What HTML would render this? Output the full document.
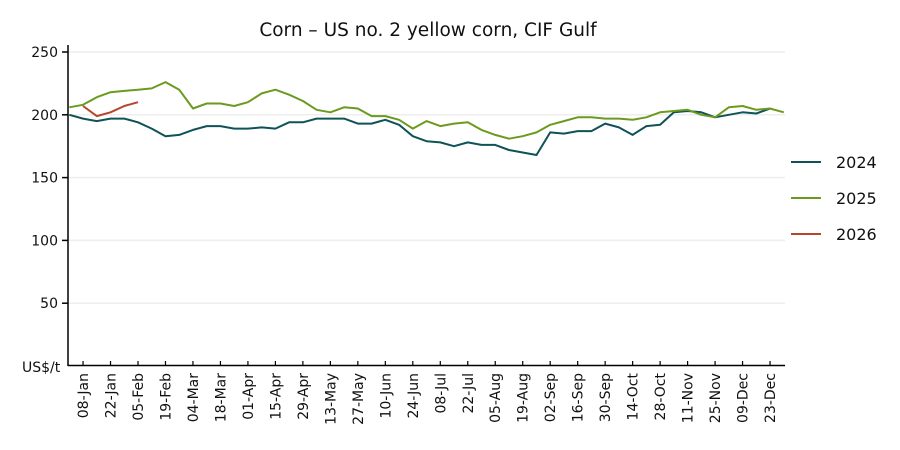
<!DOCTYPE html>
<html><head><meta charset="utf-8"><style>
body{margin:0;background:#fff;}
svg{display:block;font-family:"DejaVu Sans","Liberation Sans",sans-serif;}
</style></head><body>
<svg id="c" width="900" height="450" xmlns="http://www.w3.org/2000/svg">
<rect width="900" height="450" fill="#fff"/>
<text x="428" y="36" font-size="18.5" text-anchor="middle" fill="#111">Corn – US no. 2 yellow corn, CIF Gulf</text>
<g id="grid"></g>
<line x1="68" y1="45" x2="68" y2="366" stroke="#000" stroke-width="1.5"/>
<line x1="68" y1="365.5" x2="785" y2="365.5" stroke="#000" stroke-width="1.5"/>
<g id="lines"></g>
<text x="22" y="372" font-size="14" fill="#111">US$/t</text>
<g font-size="16" fill="#111">
<line x1="791" y1="162" x2="821" y2="162" stroke="#0f5257" stroke-width="2"/><text x="836" y="168">2024</text>
<line x1="791" y1="198" x2="821" y2="198" stroke="#6b9a1f" stroke-width="2"/><text x="836" y="204">2025</text>
<line x1="791" y1="234" x2="821" y2="234" stroke="#b5452b" stroke-width="2"/><text x="836" y="240">2026</text>
</g>
</svg>
<script>
var ns="http://www.w3.org/2000/svg";
function el(t,a,p,txt){var e=document.createElementNS(ns,t);for(var k in a)e.setAttribute(k,a[k]);if(txt)e.textContent=txt;p.appendChild(e);return e;}
var g=document.getElementById('grid'),L=document.getElementById('lines');
function Y(v){return 366-v*1.256;}function X(i){return 69.3+13.74*i;}
[50,100,150,200,250].forEach(function(v){var y=Y(v);
el('line',{x1:68,x2:785,y1:y,y2:y,stroke:'#eeeeee','stroke-width':1.5},g);
el('line',{x1:62,x2:68,y1:y,y2:y,stroke:'#000','stroke-width':1.5},g);
el('text',{x:58,y:y+5,'font-size':14,'text-anchor':'end',fill:'#111'},g,String(v));});
var labs=['08-Jan','22-Jan','05-Feb','19-Feb','04-Mar','18-Mar','01-Apr','15-Apr','29-Apr','13-May','27-May','10-Jun','24-Jun','08-Jul','22-Jul','05-Aug','19-Aug','02-Sep','16-Sep','30-Sep','14-Oct','28-Oct','11-Nov','25-Nov','09-Dec','23-Dec'];
labs.forEach(function(s,k){var x=X(1+2*k);
el('line',{x1:x,x2:x,y1:361,y2:366,stroke:'#000','stroke-width':1.2},g);
el('text',{transform:'translate('+(x+5)+',373) rotate(-90)','font-size':14,'text-anchor':'end',fill:'#111'},g,s);});
var d24=[200,197,195,197,197,194,189,183,184,188,191,191,189,189,190,189,194,194,197,197,197,193,193,196,192,183,179,178,175,178,176,176,172,170,168,186,185,187,187,193,190,184,191,192,202,203,202,198,200,202,201,205];
var d25=[206,208,214,218,219,220,221,226,220,205,209,209,207,210,217,220,216,211,204,202,206,205,199,199,196,189,195,191,193,194,188,184,181,183,186,192,195,198,198,197,197,196,198,202,203,204,200,198,206,207,204,205,202];
var d26=[null,207,199,202,207,210];
function line(d,c){var p=[];d.forEach(function(v,i){if(v!=null)p.push(X(i).toFixed(1)+','+Y(v).toFixed(1));});
el('polyline',{points:p.join(' '),fill:'none',stroke:c,'stroke-width':2,'stroke-linejoin':'round'},L);}
line(d24,'#0f5257');line(d25,'#6b9a1f');line(d26,'#b5452b');
</script>
</body></html>
